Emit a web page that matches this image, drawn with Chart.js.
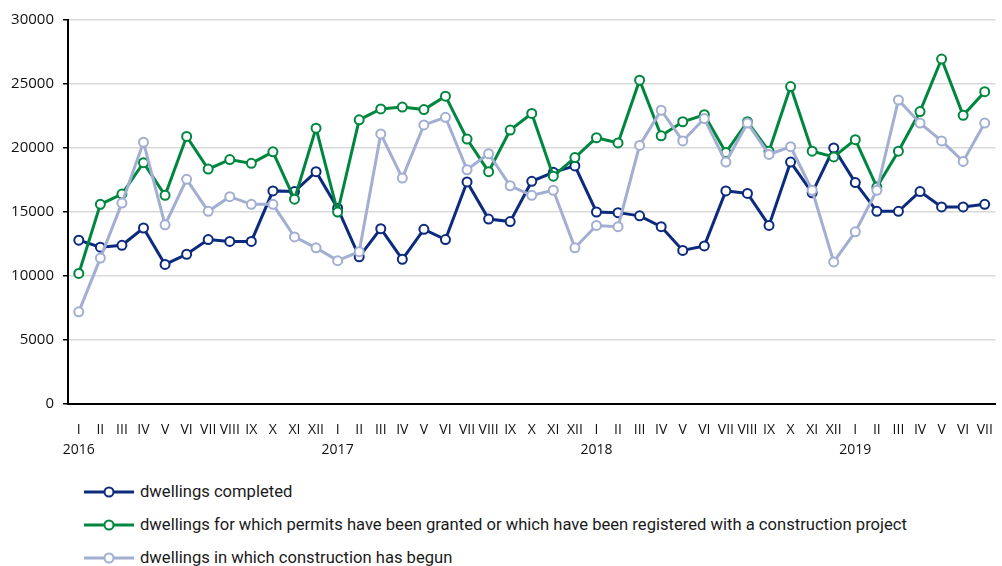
<!DOCTYPE html>
<html>
<head>
<meta charset="utf-8">
<script src="https://cdn.jsdelivr.net/npm/chart.js@4.4.0/dist/chart.umd.min.js"></script>
<style>
body{margin:0;background:#fff;}
#wrap{position:relative;width:1002px;height:566px;overflow:hidden;}
#box{position:absolute;left:0;top:0;width:1002px;height:460px;}
#legend{position:absolute;left:84px;top:475px;font-family:Roboto,sans-serif;font-size:16.6px;color:#1a1a1a;}
.row{height:33px;display:flex;align-items:center;}
.row svg{margin-right:6px;}
</style>
</head>
<body>
<div id="wrap">
  <div id="box"><canvas id="myChart" width="1002" height="460"></canvas></div>
  <div id="legend"></div>
</div>
<script>
var months=['I','II','III','IV','V','VI','VII','VIII','IX','X','XI','XII'];
var years=['2016','2017','2018','2019'];
var monthsInLastYear=7;

var seriesNames=['dwellings completed',
	'dwellings for which permits have been granted or which have been registered with a construction project',
	'dwellings in which construction has begun'];
var seriesColors=['#0c2a7e','#00873f','#a2aed2'];

var completed=[12800,12250,12400,13750,10900,11700,12850,12700,12700,16650,16600,18150,
	15300,11500,13700,11300,13650,12850,17350,14450,14250,17400,18100,18600,
	15000,14950,14700,13850,12000,12350,16650,16450,13950,18900,16500,20000,
	17300,15050,15050,16600,15400,15400,15600];
var permits=[10200,15600,16400,18850,16300,20900,18350,19100,18800,19700,16000,21550,
	15000,22200,23050,23200,23000,24050,20700,18150,21400,22700,17800,19250,
	20800,20400,25300,20950,22050,22600,19650,22050,19750,24800,19750,19300,
	20650,16950,19750,22850,26950,22550,24400];
var begun=[7200,11400,15700,20450,14000,17550,15050,16200,15600,15600,13050,12200,
	11200,11900,21100,17650,21800,22400,18300,19550,17050,16300,16700,12200,
	13950,13850,20200,22950,20550,22300,18900,21950,19500,20100,16700,11100,
	13450,16700,23750,21950,20550,18950,21950];

var labels=[];
years.forEach(function(y,yi){
	months.forEach(function(m,mi){
		if(yi===years.length-1 && mi>=monthsInLastYear) return;
		labels.push(mi===0?[m,y]:m);
	});
});

var values=[completed,permits,begun];
var datasets=values.map(function(d,i){
	return {
		label:seriesNames[i],
		data:d,
		borderColor:seriesColors[i],
		backgroundColor:seriesColors[i],
		borderWidth:3,
		pointRadius:4.5,
		pointBorderWidth:2,
		pointBackgroundColor:'#fff',
		pointBorderColor:seriesColors[i],
		tension:0,
		order:3-i
	};
});

var ctx=document.getElementById('myChart').getContext('2d');
var chart=new Chart(ctx,{
	type:'line',
	data:{labels:labels,datasets:datasets},
	options:{
		responsive:false,
		animation:false,
		layout:{padding:{top:20,right:0,left:0,bottom:0}},
		plugins:{legend:{display:false},tooltip:{enabled:false}},
		scales:{
			x:{
				offset:true,
				grid:{display:false},
				border:{color:'#000',width:2},
				ticks:{autoSkip:false,maxRotation:0,minRotation:0,padding:8,color:'#111',
					font:{family:'"Open Sans", sans-serif',size:14,lineHeight:1.45}},
				afterFit:function(s){ s.height=56; }
			},
			y:{
				min:0,max:30000,
				grid:{color:'#d9d9d9',lineWidth:1.5,tickColor:'#000',tickLength:5},
				border:{color:'#000',width:2},
				ticks:{stepSize:5000,padding:9,color:'#111',
					font:{family:'"Open Sans", sans-serif',size:15},
					callback:function(v){ return String(v); }},
				afterFit:function(s){ s.width=68; }
			}
		}
	}
});

// legend, one row per series
var legend=document.getElementById('legend');
chart.data.datasets.forEach(function(ds){
	var row=document.createElement('div');
	row.className='row';
	row.innerHTML='<svg width="50" height="12"><line x1="0" y1="6" x2="50" y2="6" stroke="'+ds.borderColor+'" stroke-width="3"/>'+
		'<circle cx="25" cy="6" r="4.5" fill="#fff" stroke="'+ds.borderColor+'" stroke-width="2"/></svg>'+
		'<span>'+ds.label+'</span>';
	legend.appendChild(row);
});
</script>
</body>
</html>
